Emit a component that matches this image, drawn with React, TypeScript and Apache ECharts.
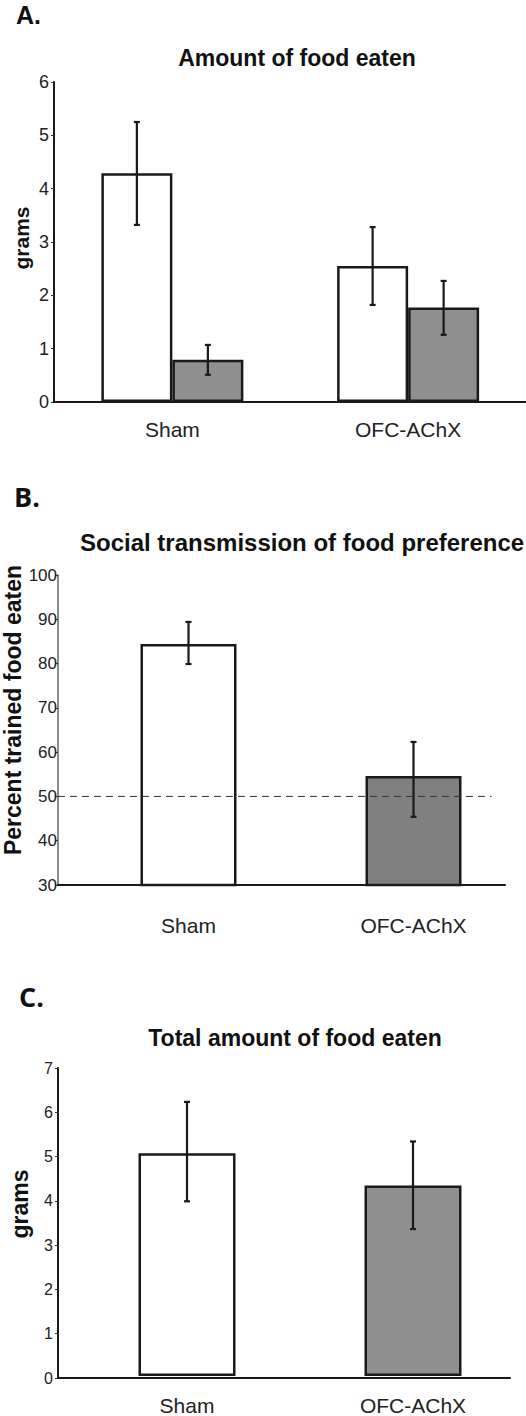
import React, { useEffect, useRef } from "react";
import * as echarts from "echarts";

// ---------- data ----------
const GROUPS = ["Sham", "OFC-AChX"];

// Panel A: Amount of food eaten (grams), two bars per group
const A_TITLE = "Amount of food eaten";
const A_Y_NAME = "grams";
const A_WHITE = [4.29, 2.55];
const A_WHITE_LOW = [3.32, 1.82];
const A_WHITE_HIGH = [5.25, 3.28];
const A_GRAY = [0.79, 1.77];
const A_GRAY_LOW = [0.51, 1.26];
const A_GRAY_HIGH = [1.07, 2.27];
const A_Y_MIN = 0;
const A_Y_MAX = 6;
const A_Y_STEP = 1;

// Panel B: Social transmission of food preference (percent)
const B_TITLE = "Social transmission of food preference";
const B_Y_NAME = "Percent trained food eaten";
const B_VALUES = [84.4, 54.6];
const B_LOW = [79.9, 45.4];
const B_HIGH = [89.4, 62.3];
const B_CHANCE = 50;
const B_Y_MIN = 30;
const B_Y_MAX = 100;
const B_Y_STEP = 10;

// Panel C: Total amount of food eaten (grams)
const C_TITLE = "Total amount of food eaten";
const C_Y_NAME = "grams";
const C_VALUES = [5.06, 4.33];
const C_LOW = [3.97, 3.34];
const C_HIGH = [6.23, 5.33];
const C_Y_MIN = 0;
const C_Y_MAX = 7;
const C_Y_STEP = 1;

// ---------- styles ----------
const FONT = '"Liberation Sans", Arial, Helvetica, sans-serif';
const FONT_B = '"Open Sans", "Liberation Sans", Arial, sans-serif';
const INK = "#1a1a1a";
const TXT = "#222";
const GRAY_A = "#8f8f8f";
const GRAY_B = "#808080";
const GRAY_C = "#8f8f8f";

function errSeries(
  xi: number,
  lows: number[],
  highs: number[],
  offset: number
) {
  return {
    type: "custom",
    xAxisIndex: xi,
    yAxisIndex: xi,
    z: 5,
    silent: true,
    data: lows.map((lo, i) => [i, lo, highs[i]]),
    encode: { x: 0, y: [1, 2] },
    renderItem: (_p: any, api: any) => {
      const idx = api.value(0);
      const pLo = api.coord([idx, api.value(1)]);
      const pHi = api.coord([idx, api.value(2)]);
      const cx = pLo[0] + offset;
      const st = { stroke: INK, lineWidth: 2.2 };
      const cap = 3;
      return {
        type: "group",
        children: [
          { type: "line", shape: { x1: cx, y1: pLo[1], x2: cx, y2: pHi[1] }, style: st },
          { type: "line", shape: { x1: cx - cap, y1: pHi[1], x2: cx + cap, y2: pHi[1] }, style: st },
          { type: "line", shape: { x1: cx - cap, y1: pLo[1], x2: cx + cap, y2: pLo[1] }, style: st },
        ],
      };
    },
  };
}

function axesX(gi: number, color = INK) {
  return {
    gridIndex: gi,
    type: "value",
    min: 0,
    max: 1,
    z: 10,
    axisLine: { show: true, onZero: false, lineStyle: { color, width: 2 } },
    axisTick: { show: false },
    axisLabel: { show: false },
    splitLine: { show: false },
  };
}

function barsX(gi: number, margin: number) {
  return {
    gridIndex: gi,
    type: "category",
    data: GROUPS,
    axisLine: { show: false },
    axisTick: { show: false },
    axisLabel: {
      margin,
      color: TXT,
      fontFamily: FONT,
      fontSize: 21,
    },
    splitLine: { show: false },
  };
}

function axesY(
  gi: number,
  min: number,
  max: number,
  step: number,
  fontSize: number,
  margin: number,
  lineColor: string
) {
  return {
    gridIndex: gi,
    type: "value",
    min,
    max,
    interval: step,
    axisLine: { show: true, lineStyle: { color: lineColor, width: 2 } },
    axisTick: { show: true, length: 3, lineStyle: { color: "#333", width: 1 } },
    axisLabel: { margin, color: TXT, fontFamily: FONT, fontSize },
    splitLine: { show: false },
  };
}

function hiddenY(gi: number, min: number, max: number) {
  return { gridIndex: gi, type: "value", min, max, show: false };
}

export default function App() {
  const ref = useRef<HTMLDivElement>(null);

  useEffect(() => {
    if (!ref.current) return;
    const chart = echarts.init(ref.current, undefined, { renderer: "svg" });

    const A_BW = 71;
    const B_BW = 96;
    const C_BW = 97;

    const option: any = {
      animation: false,
      backgroundColor: "#fff",
      grid: [
        { left: 54, top: 82, width: 480, height: 320 }, // 0 A axes
        { left: 54.5, top: 82, width: 494, height: 320 }, // 1 A bars
        { left: 58, top: 575, width: 447, height: 310 }, // 2 B axes
        { left: 76, top: 575, width: 455, height: 310 }, // 3 B bars
        { left: 58, top: 1068, width: 452, height: 310 }, // 4 C axes
        { left: 74, top: 1068, width: 467, height: 310 }, // 5 C bars
      ],
      xAxis: [
        axesX(0),
        barsX(1, 17),
        axesX(2),
        barsX(3, 30),
        axesX(4),
        barsX(5, 19),
      ],
      yAxis: [
        axesY(0, A_Y_MIN, A_Y_MAX, A_Y_STEP, 18, 5, INK),
        hiddenY(1, A_Y_MIN, A_Y_MAX),
        axesY(2, B_Y_MIN, B_Y_MAX, B_Y_STEP, 17, 1, "#8c8c8c"),
        hiddenY(3, B_Y_MIN, B_Y_MAX),
        axesY(4, C_Y_MIN, C_Y_MAX, C_Y_STEP, 16, 5, INK),
        hiddenY(5, C_Y_MIN, C_Y_MAX),
      ],
      graphic: [
        // panel letters
        { type: "text", x: 16, y: 15, style: { text: "A.", fontFamily: FONT, fontWeight: "bold", fontSize: 25, fill: "#111", verticalAlign: "middle" } },
        { type: "text", x: 14, y: 496, style: { text: "B.", fontFamily: FONT_B, fontWeight: "bold", fontSize: 27, fill: "#111", verticalAlign: "middle" } },
        { type: "text", x: 19, y: 996, style: { text: "C.", fontFamily: FONT_B, fontWeight: "bold", fontSize: 27, fill: "#111", verticalAlign: "middle" } },
        // titles
        { type: "text", x: 297, y: 57.5, style: { text: A_TITLE, fontFamily: FONT, fontWeight: "bold", fontSize: 23, fill: "#111", align: "center", verticalAlign: "middle" } },
        { type: "text", x: 80, y: 542, style: { text: B_TITLE, fontFamily: FONT, fontWeight: "bold", fontSize: 24, fill: "#111", align: "left", verticalAlign: "middle" } },
        { type: "text", x: 295, y: 1037.5, style: { text: C_TITLE, fontFamily: FONT, fontWeight: "bold", fontSize: 23, fill: "#111", align: "center", verticalAlign: "middle" } },
        // axis names
        { type: "text", x: 21, y: 238, rotation: Math.PI / 2, style: { text: A_Y_NAME, fontFamily: FONT, fontWeight: "bold", fontSize: 21, fill: "#111", align: "center", verticalAlign: "middle" } },
        { type: "text", x: 13, y: 710, rotation: Math.PI / 2, style: { text: B_Y_NAME, fontFamily: FONT, fontWeight: "bold", fontSize: 23, fill: "#111", align: "center", verticalAlign: "middle" } },
        { type: "text", x: 20, y: 1204, rotation: Math.PI / 2, style: { text: C_Y_NAME, fontFamily: FONT, fontWeight: "bold", fontSize: 23, fill: "#111", align: "center", verticalAlign: "middle" } },
      ],
      series: [
        // Panel A
        {
          name: "White",
          type: "bar",
          xAxisIndex: 1,
          yAxisIndex: 1,
          data: A_WHITE,
          barWidth: A_BW,
          barGap: "0%",
          itemStyle: { color: "#fff", borderColor: INK, borderWidth: 2.5 },
        },
        {
          name: "Gray",
          type: "bar",
          xAxisIndex: 1,
          yAxisIndex: 1,
          data: A_GRAY,
          barWidth: A_BW,
          barGap: "0%",
          itemStyle: { color: GRAY_A, borderColor: INK, borderWidth: 2.5 },
        },
        errSeries(1, A_WHITE_LOW, A_WHITE_HIGH, -A_BW / 2),
        errSeries(1, A_GRAY_LOW, A_GRAY_HIGH, A_BW / 2),
        // Panel B
        {
          type: "bar",
          xAxisIndex: 3,
          yAxisIndex: 3,
          barWidth: B_BW,
          data: B_VALUES.map((v, i) => ({
            value: v,
            itemStyle: { color: i === 0 ? "#fff" : GRAY_B },
          })),
          itemStyle: { borderColor: INK, borderWidth: 2.5 },
        },
        errSeries(3, B_LOW, B_HIGH, 0),
        {
          type: "line",
          xAxisIndex: 2,
          yAxisIndex: 2,
          z: 6,
          symbol: "none",
          silent: true,
          data: [
            [0, B_CHANCE],
            [0.97, B_CHANCE],
          ],
          lineStyle: { color: "#333", width: 1, type: [7, 5] },
        },
        // Panel C
        {
          type: "bar",
          xAxisIndex: 5,
          yAxisIndex: 5,
          barWidth: C_BW,
          data: C_VALUES.map((v, i) => ({
            value: v,
            itemStyle: { color: i === 0 ? "#fff" : GRAY_C },
          })),
          itemStyle: { borderColor: INK, borderWidth: 2.5 },
        },
        errSeries(5, C_LOW, C_HIGH, 0),
      ],
    };

    chart.setOption(option);
    return () => chart.dispose();
  }, []);

  return (
    <div
      ref={ref}
      style={{ position: "absolute", left: 0, top: 0, width: 526, height: 1416 }}
    />
  );
}
